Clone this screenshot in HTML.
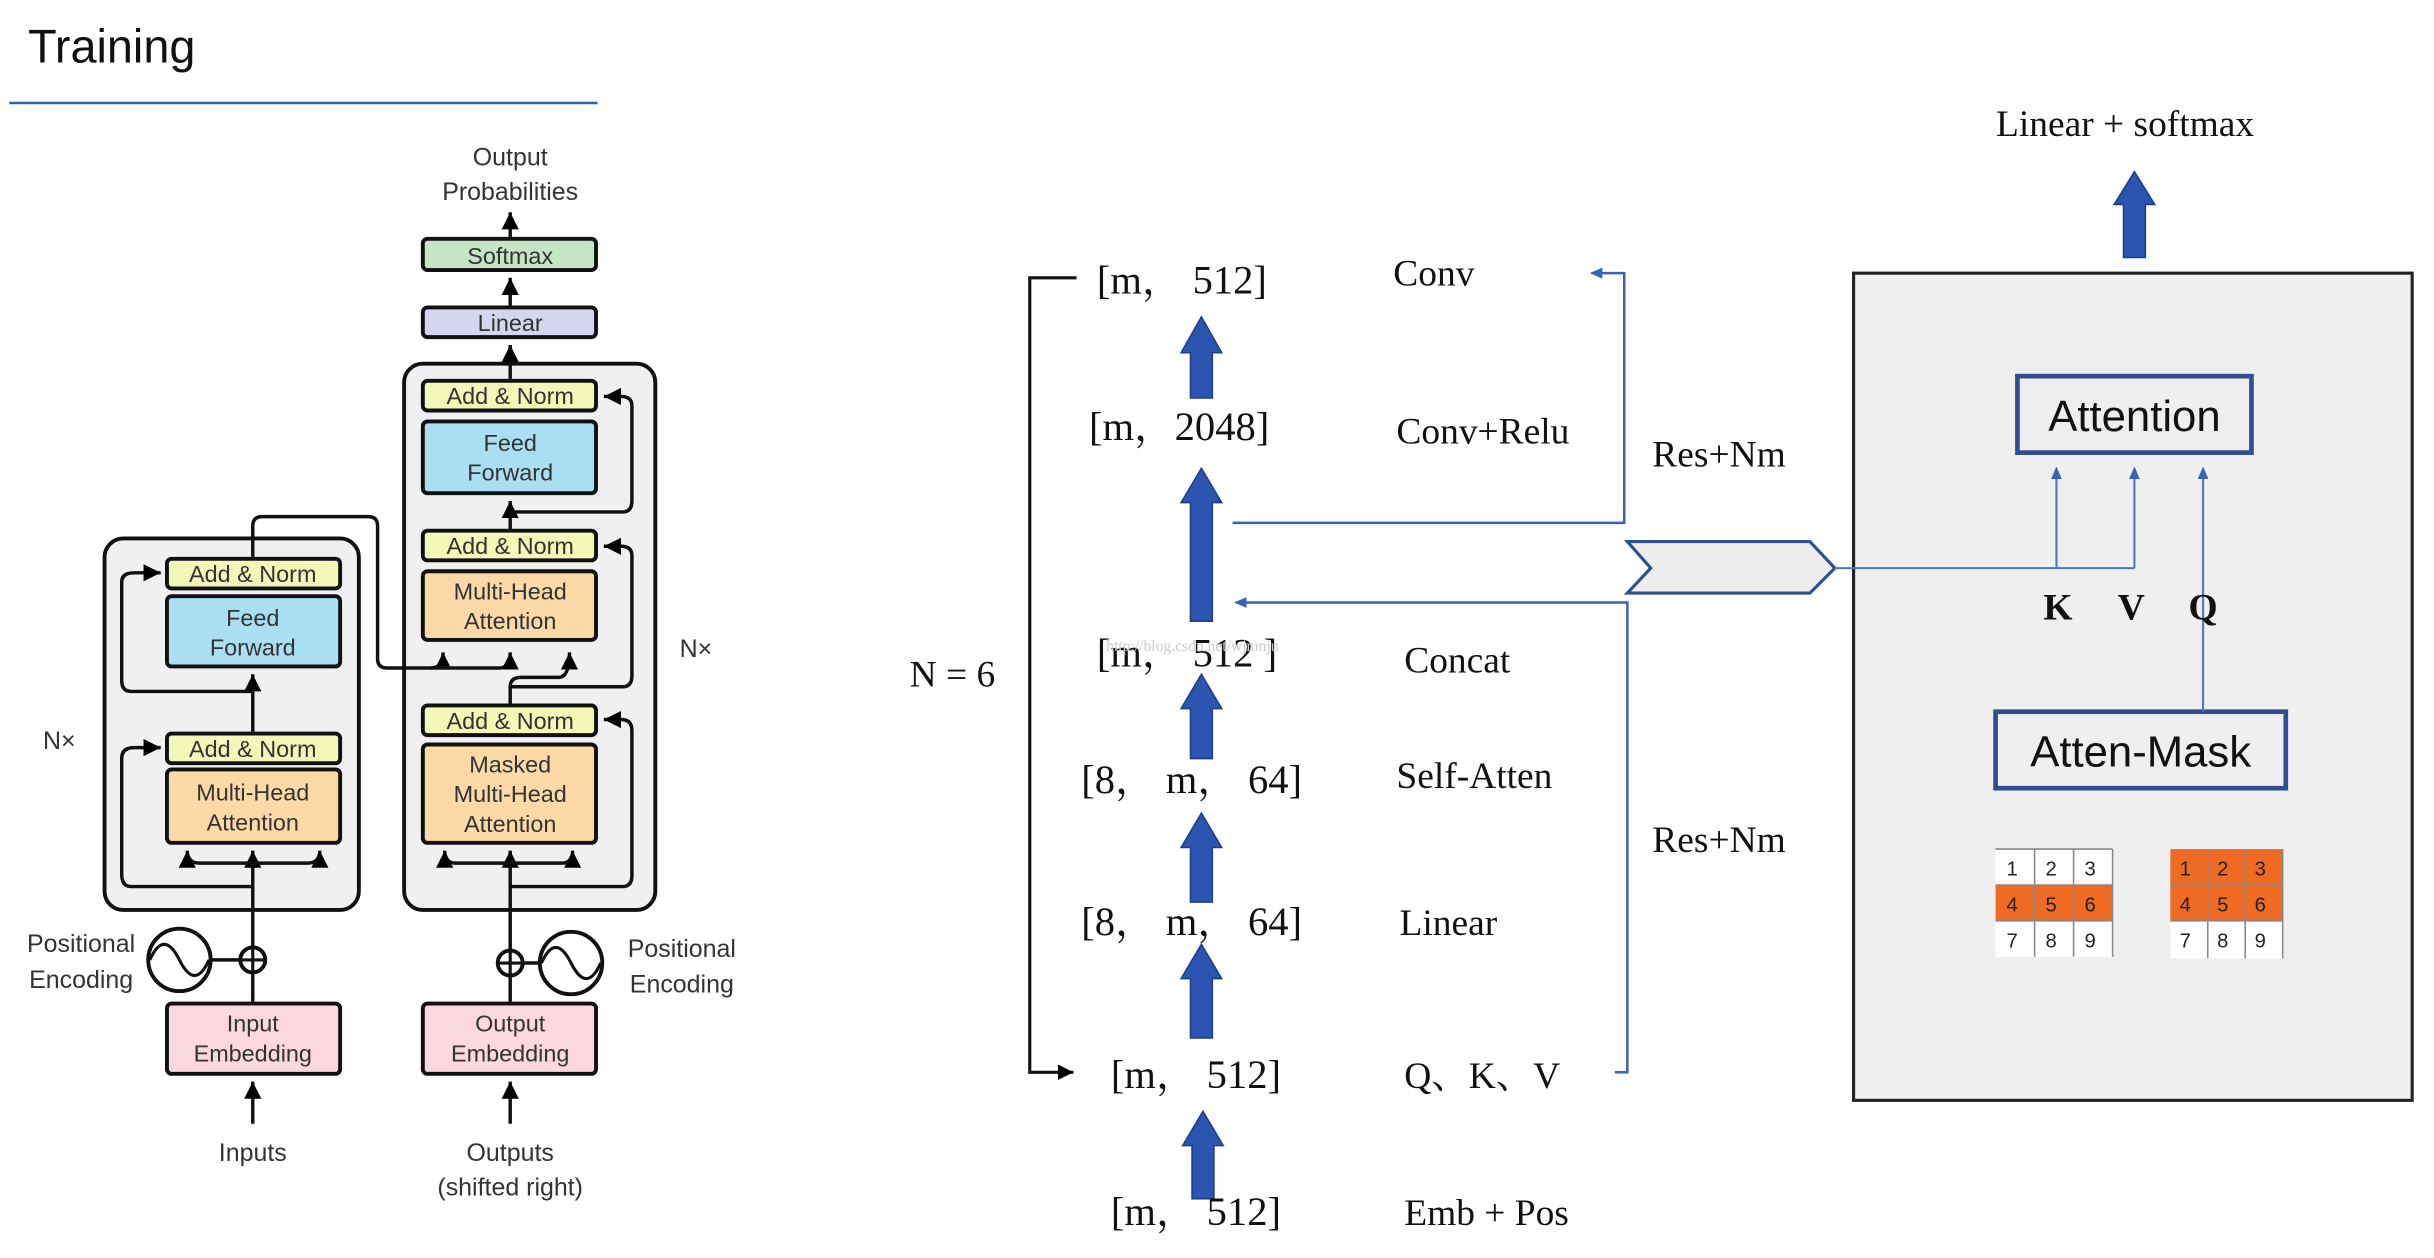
<!DOCTYPE html>
<html><head><meta charset="utf-8"><style>
html,body{margin:0;padding:0;background:#fff;width:2434px;height:1258px;overflow:hidden}
svg{display:block}
text{white-space:pre}
.s{font-family:"Liberation Sans",sans-serif}
.r{font-family:"Liberation Serif","Noto Serif CJK SC",serif}
</style></head><body>
<svg width="2434" height="1258" viewBox="0 0 1560 806" preserveAspectRatio="none" xmlns="http://www.w3.org/2000/svg">
<defs>
<marker id="ah" markerWidth="6" markerHeight="6" refX="5" refY="3" orient="auto" markerUnits="strokeWidth"><path d="M0,0.5 L5,3 L0,5.5 Z" fill="#000"/></marker>
<marker id="bh" markerWidth="8" markerHeight="8" refX="7" refY="4" orient="auto" markerUnits="userSpaceOnUse"><path d="M0,0.5 L8,4 L0,7.5 Z" fill="#3563b8"/></marker>
</defs>
<text class="s" x="18" y="40" font-size="30" fill="#111">Training</text>
<line x1="6" y1="66" x2="383" y2="66" stroke="#2f63a8" stroke-width="1.6"/>

<g class="s" font-size="15" fill="#333" text-anchor="middle">
<rect x="67" y="345" width="163" height="238" rx="12" fill="#f0f0f2" stroke="#111" stroke-width="2.5"/>
<rect x="259" y="233" width="161" height="350" rx="12" fill="#f0f0f2" stroke="#111" stroke-width="2.5"/>
<g stroke="#111" stroke-width="2.2" fill="none">
<path d="M162 643 V545" marker-end="url(#ah)"/>
<path d="M162 553 H128 Q120 553 120 545" marker-end="url(#ah)"/>
<path d="M162 553 H197 Q205 553 205 545" marker-end="url(#ah)"/>
<path d="M162 568 H84 Q78 568 78 560 V486 Q78 479 86 479 H103" marker-end="url(#ah)"/>
<path d="M162 470 V432" marker-end="url(#ah)"/>
<path d="M162 443 H84 Q78 443 78 436 V373 Q78 367 86 367 H103" marker-end="url(#ah)"/>
<path d="M162 358 V337 Q162 331 168 331 H236 Q242 331 242 337 V422 Q242 428 248 428 H276 Q284 428 284 418" marker-end="url(#ah)"/>
<path d="M276 428 H320 Q327 428 327 418" marker-end="url(#ah)"/>
<path d="M327 643 V545" marker-end="url(#ah)"/>
<path d="M327 553 H292 Q285 553 285 545" marker-end="url(#ah)"/>
<path d="M327 553 H360 Q367 553 367 545" marker-end="url(#ah)"/>
<path d="M327 568 H399 Q405 568 405 561 V468 Q405 461 398 461 H387" marker-end="url(#ah)"/>
<path d="M327 452 V440 Q327 434 334 434 H358 Q365 434 365 418" marker-end="url(#ah)"/>
<path d="M327 440 H399 Q405 440 405 433 V356 Q405 350 398 350 H387" marker-end="url(#ah)"/>
<path d="M327 340 V321" marker-end="url(#ah)"/>
<path d="M327 328 H399 Q405 328 405 321 V260 Q405 254 398 254 H387" marker-end="url(#ah)"/>
<path d="M327 244 V221" marker-end="url(#ah)"/>
<path d="M327 197 V178" marker-end="url(#ah)"/>
<path d="M327 153 V136" marker-end="url(#ah)"/>
<path d="M162 720 V693" marker-end="url(#ah)"/>
<path d="M327 720 V693" marker-end="url(#ah)"/>
<path d="M135 615 H154"/>
<path d="M335 617 H346"/>
</g>
<g stroke="#111" stroke-width="2.5">
<rect x="107" y="358" width="111" height="19" rx="3" fill="#f3f7b8"/>
<rect x="107" y="382" width="111" height="45" rx="3" fill="#a9dff0"/>
<rect x="107" y="470" width="111" height="19" rx="3" fill="#f3f7b8"/>
<rect x="107" y="493" width="111" height="47" rx="3" fill="#fcd9a6"/>
<rect x="271" y="244" width="111" height="19" rx="3" fill="#f3f7b8"/>
<rect x="271" y="270" width="111" height="46" rx="3" fill="#a9dff0"/>
<rect x="271" y="340" width="111" height="19" rx="3" fill="#f3f7b8"/>
<rect x="271" y="366" width="111" height="44" rx="3" fill="#fcd9a6"/>
<rect x="271" y="452" width="111" height="19" rx="3" fill="#f3f7b8"/>
<rect x="271" y="477" width="111" height="63" rx="3" fill="#fcd9a6"/>
<rect x="271" y="197" width="111" height="19" rx="3" fill="#d5d5ef"/>
<rect x="271" y="153" width="111" height="20" rx="3" fill="#c5e5c5"/>
<rect x="107" y="643" width="111" height="45" rx="3" fill="#fbd7de"/>
<rect x="271" y="643" width="111" height="45" rx="3" fill="#fbd7de"/>
<circle cx="115" cy="615" r="20" fill="#fff"/>
<circle cx="366" cy="617" r="20" fill="#fff"/>
<circle cx="162" cy="615" r="8" fill="#fff"/>
<circle cx="327" cy="617" r="8" fill="#fff"/>
</g>
<g stroke="#111" stroke-width="2" fill="none">
<path d="M96 615 Q105 595 115 615 T134 615"/>
<path d="M347 617 Q356 597 366 617 T385 617"/>
<path d="M154 615 H170 M162 607 V623 M319 617 H335 M327 609 V625"/>
</g>
<text x="162" y="373">Add &amp; Norm</text>
<text x="162" y="401">Feed</text><text x="162" y="420">Forward</text>
<text x="162" y="485">Add &amp; Norm</text>
<text x="162" y="513">Multi-Head</text><text x="162" y="532">Attention</text>
<text x="327" y="259">Add &amp; Norm</text>
<text x="327" y="289">Feed</text><text x="327" y="308">Forward</text>
<text x="327" y="355">Add &amp; Norm</text>
<text x="327" y="384">Multi-Head</text><text x="327" y="403">Attention</text>
<text x="327" y="467">Add &amp; Norm</text>
<text x="327" y="495">Masked</text><text x="327" y="514">Multi-Head</text><text x="327" y="533">Attention</text>
<text x="327" y="212">Linear</text>
<text x="327" y="169">Softmax</text>
<text x="162" y="661">Input</text><text x="162" y="680">Embedding</text>
<text x="327" y="661">Output</text><text x="327" y="680">Embedding</text>
<text x="327" y="106" font-size="16">Output</text><text x="327" y="128" font-size="16">Probabilities</text>
<text x="162" y="744" font-size="16">Inputs</text>
<text x="327" y="744" font-size="16">Outputs</text><text x="327" y="766" font-size="16">(shifted right)</text>
<text x="52" y="610" font-size="16">Positional</text><text x="52" y="633" font-size="16">Encoding</text>
<text x="437" y="613" font-size="16">Positional</text><text x="437" y="636" font-size="16">Encoding</text>
<text x="38" y="480" font-size="16">N×</text>
<text x="446" y="421" font-size="16">N×</text>
</g>

<g class="r" font-size="26" fill="#111">
<path d="M690 178 H660 V687 H688" stroke="#111" stroke-width="2" fill="none" marker-end="url(#ah)"/>
<text x="583" y="440" font-size="24">N = 6</text>
<g fill="#2b55b0" stroke="#1d3f8a" stroke-width="1">
<path d="M763 255 V226 H757 L770 203 L783 226 H777 V255 Z"/>
<path d="M763 398 V322 H757 L770 300 L783 322 H777 V398 Z"/>
<path d="M763 486 V454 H757 L770 432 L783 454 H777 V486 Z"/>
<path d="M763 578 V543 H757 L770 521 L783 543 H777 V578 Z"/>
<path d="M763 665 V627 H757 L770 605 L783 627 H777 V665 Z"/>
<path d="M764 768 V734 H758 L771 712 L784 734 H778 V768 Z"/>
<path d="M1361 165 V131 H1355 L1368 110 L1381 131 H1375 V165 Z"/>
</g>
<text x="703" y="188">[m， 512]</text>
<text x="698" y="282">[m，2048]</text>
<text x="703" y="427">[m， 512 ]</text>
<text x="693" y="508">[8， m， 64]</text>
<text x="693" y="599">[8， m， 64]</text>
<text x="712" y="697">[m， 512]</text>
<text x="712" y="785">[m， 512]</text>
<text x="709" y="417" font-size="10" fill="#ccc">http://blog.csdn.net/wjmnju</text>
<g font-size="24">
<text x="893" y="183">Conv</text>
<text x="895" y="284">Conv+Relu</text>
<text x="900" y="431">Concat</text>
<text x="895" y="505">Self-Atten</text>
<text x="897" y="599">Linear</text>
<text x="900" y="697">Q、K、V</text>
<text x="900" y="785">Emb + Pos</text>
<text x="1059" y="299">Res+Nm</text>
<text x="1059" y="546">Res+Nm</text>
</g>
<g stroke="#3563b8" stroke-width="1.6" fill="none">
<path d="M790 335 H1041 V175 H1020" marker-end="url(#bh)"/>
<path d="M1035 687 H1043 V386 H792" marker-end="url(#bh)"/>
</g>
<polygon points="1043,347 1160,347 1176,364 1160,380 1043,380 1058,364" fill="#eeeeee" stroke="#2e4f8f" stroke-width="2"/>
</g>

<g>
<rect x="1188" y="175" width="358" height="530" fill="#efefef" stroke="#222" stroke-width="2"/>
<text class="r" x="1362" y="87" font-size="24" text-anchor="middle" fill="#111">Linear + softmax</text>
<rect x="1293" y="241" width="150" height="49" fill="none" stroke="#2e4f8f" stroke-width="3"/>
<text class="s" x="1368" y="276" font-size="28" text-anchor="middle" fill="#111">Attention</text>
<rect x="1279" y="456" width="186" height="49" fill="none" stroke="#2e4f8f" stroke-width="3"/>
<text class="s" x="1372" y="491" font-size="28" text-anchor="middle" fill="#111">Atten-Mask</text>
<g stroke="#4a74c4" stroke-width="1.3" fill="none">
<path d="M1176 364 H1368"/>
<path d="M1318 364 V300" marker-end="url(#bh)"/>
<path d="M1368 364 V300" marker-end="url(#bh)"/>
<path d="M1412 456 V300" marker-end="url(#bh)"/>
</g>
<g class="r" font-size="24" fill="#111" text-anchor="middle" font-weight="bold">
<text x="1319" y="397">K</text><text x="1366" y="397">V</text><text x="1412" y="397">Q</text>
</g>
<g class="s" font-size="13" fill="#222">
<rect x="1279" y="544" width="75" height="69" fill="#fff"/>
<rect x="1279" y="567" width="75" height="23" fill="#ef6a22"/>
<path d="M1279 544 H1354 M1279 567 H1354 M1279 590 H1354 M1304 544 V613 M1329 544 V613 M1354 544 V613" stroke="#888" stroke-width="1"/>
<text x="1286" y="561">1</text><text x="1311" y="561">2</text><text x="1336" y="561">3</text>
<text x="1286" y="584">4</text><text x="1311" y="584">5</text><text x="1336" y="584">6</text>
<text x="1286" y="607">7</text><text x="1311" y="607">8</text><text x="1336" y="607">9</text>
<rect x="1391" y="544" width="72" height="70" fill="#fff"/>
<rect x="1391" y="544" width="72" height="46" fill="#ef6a22"/>
<path d="M1391 567 H1463 M1391 590 H1463 M1415 544 V614 M1439 544 V614 M1463 544 V614" stroke="#888" stroke-width="1"/>
<text x="1397" y="561">1</text><text x="1421" y="561">2</text><text x="1445" y="561">3</text>
<text x="1397" y="584">4</text><text x="1421" y="584">5</text><text x="1445" y="584">6</text>
<text x="1397" y="607">7</text><text x="1421" y="607">8</text><text x="1445" y="607">9</text>
</g>
</g>
</svg>
</body></html>
